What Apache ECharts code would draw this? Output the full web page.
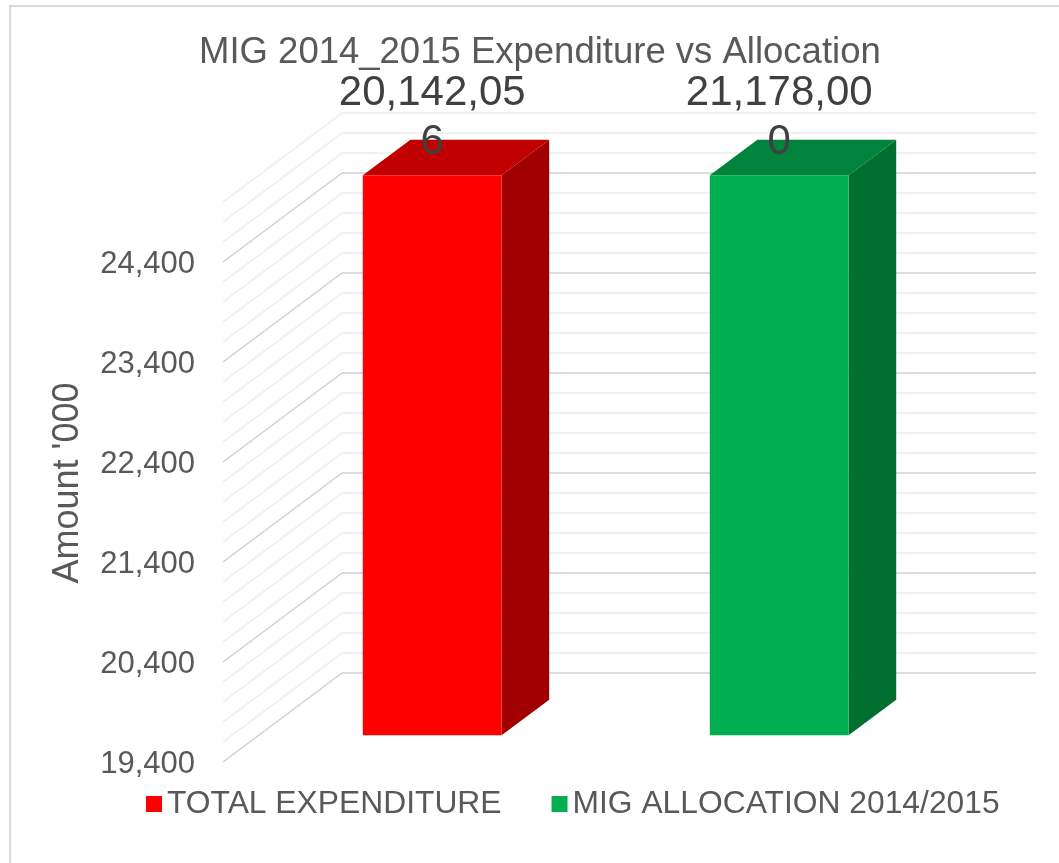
<!DOCTYPE html>
<html>
<head>
<meta charset="utf-8">
<script src="https://cdn.jsdelivr.net/npm/echarts@6/dist/echarts.min.js"></script>
<style>html,body{margin:0;padding:0;background:#fff;}#c{width:1059px;height:863px;}</style>
</head>
<body>
<div id="c"></div>
<script>
var categories = ['TOTAL EXPENDITURE', 'MIG ALLOCATION 2014/2015'];
var values = [20142056, 21178000];
var colorsFront = ['#FF0000', '#00B050'];
var colorsTop = ['#C00000', '#00843C'];
var colorsSide = ['#A00000', '#006F30'];
var yMin = 19400, yMax = 25000, yMinor = 200, yMajor = 1000;
var titleText = "MIG 2014_2015 Expenditure vs Allocation";
var yName = "Amount '000";

var FONT = '"Liberation Sans", Arial, sans-serif';
// 3D projection (depth offsets of the side wall and bars)
var WALL_DX = 119, WALL_DY = 89;
var FRONT_T = 0.7, BACK_T = 0.3;

var gridTicks = [];
for (var v = yMin; v <= yMax + 1e-6; v += yMinor) gridTicks.push(v);

function fmt(n) { return n.toString().replace(/\B(?=(\d{3})+(?!\d))/g, ','); }

function wallRender(params, api) {
  var v = api.value(0);
  var y = api.coord([0, v])[1];
  var x0 = params.coordSys.x;
  var major = ((v - yMin) % yMajor) === 0;
  return {
    type: 'line',
    shape: { x1: x0, y1: y, x2: x0 - WALL_DX, y2: y + WALL_DY },
    style: { stroke: major ? '#D0D0D0' : '#EDEDED', lineWidth: 1.5 },
    silent: true
  };
}

function barRender(idx) {
  return function (params, api) {
    var cat = api.value(0);
    var val = Math.min(api.value(1), yMax);
    var top = api.coord([cat, val]);
    var base = api.coord([cat, yMin]);
    var hw = api.size([1, 0])[0] * 0.4 / 2;
    var fdx = -WALL_DX * FRONT_T, fdy = WALL_DY * FRONT_T;
    var bdx = -WALL_DX * BACK_T, bdy = WALL_DY * BACK_T;
    var cx = top[0];
    var fl = cx - hw + fdx, fr = cx + hw + fdx;
    var bl = cx - hw + bdx, br = cx + hw + bdx;
    var ft = top[1] + fdy, fb = base[1] + fdy;
    var bt = top[1] + bdy, bb = base[1] + bdy;
    var s = fmt(values[idx]);
    var lbl = s.slice(0, 9) + '\n' + s.slice(9);
    return {
      type: 'group',
      children: [
        { type: 'polygon', shape: { points: [[fr, ft], [br, bt], [br, bb], [fr, fb]] }, style: { fill: colorsSide[idx] } },
        { type: 'polygon', shape: { points: [[fl, ft], [fr, ft], [br, bt], [bl, bt]] }, style: { fill: colorsTop[idx] } },
        { type: 'rect', shape: { x: fl, y: ft, width: fr - fl, height: fb - ft }, style: { fill: colorsFront[idx] } },
        { type: 'text', x: (fl + fr) / 2, y: ft - 8, style: { text: lbl, fill: '#404040', font: '42px ' + FONT, lineHeight: 49, align: 'center', verticalAlign: 'bottom' } }
      ]
    };
  };
}

var chart = echarts.init(document.getElementById('c'), null, { renderer: 'canvas' });
chart.setOption({
  animation: false,
  backgroundColor: '#fff',
  title: {
    text: titleText, left: 194, top: 29,
    textStyle: { fontFamily: FONT, fontSize: 36.5, fontWeight: 'normal', color: '#595959' }
  },
  legend: {
    left: 141, top: 783, itemWidth: 16, itemHeight: 16, itemGap: 50,
    icon: 'rect',
    data: categories,
    textStyle: { fontFamily: FONT, fontSize: 31.8, color: '#595959', padding: [0, 0, 0, 0] }
  },
  grid: [
    { left: 342, right: 23, top: 113, bottom: 190 },
    { left: 223, right: 142, top: 204, bottom: 99 }
  ],
  xAxis: [
    { type: 'category', data: categories, gridIndex: 0, show: false },
    { type: 'category', data: categories, gridIndex: 1, show: false }
  ],
  yAxis: [
    {
      type: 'value', gridIndex: 0, min: yMin, max: yMax, interval: yMinor,
      axisLine: { show: false }, axisTick: { show: false }, axisLabel: { show: false },
      splitLine: { show: true, lineStyle: { width: 1.5, color: ['#D0D0D0', '#EDEDED', '#EDEDED', '#EDEDED', '#EDEDED'] } }
    },
    {
      type: 'value', gridIndex: 1, min: yMin, max: yMax, interval: yMajor,
      axisLine: { show: false }, axisTick: { show: false }, splitLine: { show: false },
      axisLabel: { showMaxLabel: false, margin: 28, fontFamily: FONT, fontSize: 31, color: '#595959', formatter: function (v) { return fmt(v); } }
    }
  ],
  graphic: [
    { type: 'rect', shape: { x: 10, y: 6, width: 1200, height: 1000 }, style: { fill: 'none', stroke: '#D9D9D9', lineWidth: 2 }, silent: true },
    { type: 'text', x: 68, y: 483, rotation: Math.PI / 2, style: { text: yName, font: '36px ' + FONT, fill: '#595959', align: 'center', verticalAlign: 'middle' } }
  ],
  series: [
    {
      type: 'custom', name: 'wall', xAxisIndex: 0, yAxisIndex: 0, silent: true,
      data: gridTicks.map(function (v) { return [v]; }),
      encode: { y: 0 },
      renderItem: wallRender, z: 1
    },
    {
      type: 'custom', name: categories[0], xAxisIndex: 0, yAxisIndex: 0,
      itemStyle: { color: colorsFront[0] },
      data: [[0, values[0]]], encode: { x: 0, y: 1 },
      renderItem: barRender(0), z: 3
    },
    {
      type: 'custom', name: categories[1], xAxisIndex: 0, yAxisIndex: 0,
      itemStyle: { color: colorsFront[1] },
      data: [[1, values[1]]], encode: { x: 0, y: 1 },
      renderItem: barRender(1), z: 3
    }
  ]
});
</script>
</body>
</html>
